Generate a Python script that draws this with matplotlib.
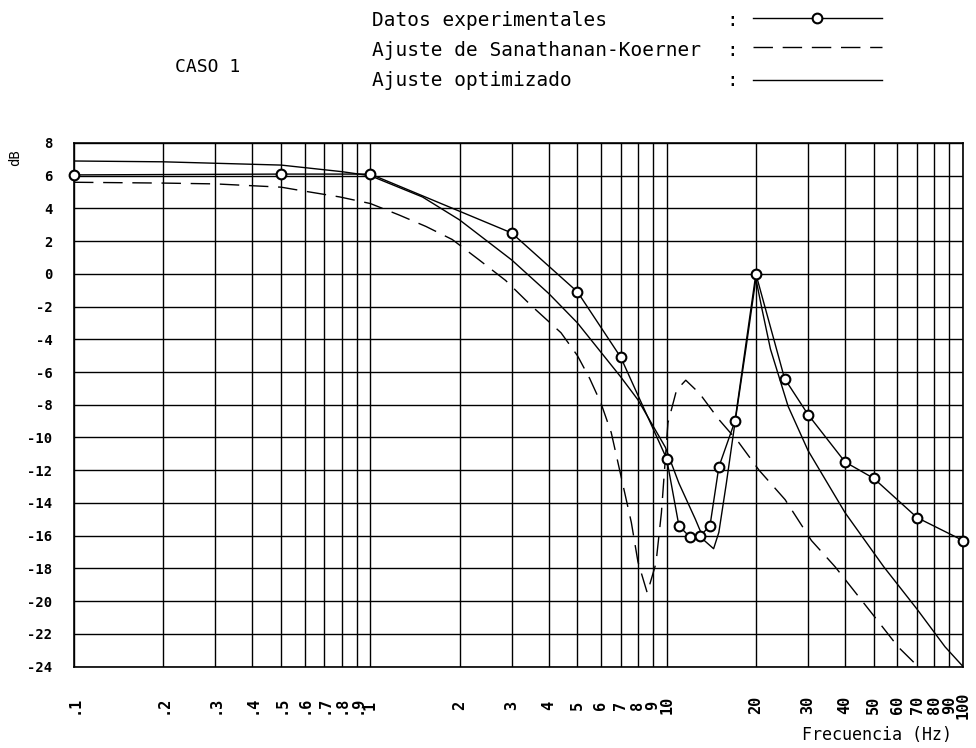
import matplotlib
matplotlib.use('Agg')
import matplotlib.pyplot as plt
from matplotlib.lines import Line2D

# datos experimentales
exp_f = [0.1, 0.5, 1, 3, 5, 7, 10, 11, 12, 13, 14, 15, 17, 20, 25, 30, 40, 50, 70, 100]
exp_db = [6.05, 6.1, 6.1, 2.5, -1.1, -5.1, -11.3, -15.4, -16.1, -16.0, -15.4, -11.8,
          -9.0, 0.0, -6.4, -8.6, -11.5, -12.5, -14.9, -16.3]

# ajuste de Sanathanan-Koerner
sk_f = [0.1, 0.2, 0.3, 0.5, 0.58, 0.79, 1.0, 1.25, 1.54, 1.89, 2.33, 2.86, 3.52, 4.4,
        5.0, 5.5, 6.0, 6.5, 7.0, 7.6, 8.0, 8.6, 9.2, 9.6, 10.1, 10.8, 11.6, 12.9, 15.0,
        17.5, 20.5, 25.1, 30.8, 37.0, 50.0, 60.4, 70.5]
sk_db = [5.6, 5.55, 5.5, 5.3, 5.1, 4.7, 4.3, 3.6, 2.9, 2.1, 0.85, -0.4, -2.0, -3.6,
         -5.0, -6.4, -7.9, -9.7, -12.3, -15.2, -17.6, -19.5, -17.7, -14.6, -9.1, -7.1,
         -6.5, -7.3, -8.9, -10.3, -12.0, -13.8, -16.3, -17.9, -20.9, -22.8, -24.0]

# ajuste optimizado
opt_f = [0.1, 0.2, 0.5, 0.8, 1.0, 1.5, 2.0, 3.0, 4.0, 5.0, 7.0, 8.0, 9.9, 11.0, 12.5,
         13.4, 14.4, 15.0, 15.9, 17.0, 18.5, 20.0, 21.0, 22.4, 25.7, 30.0, 40.0, 54.0,
         70.0, 87.0, 100.0]
opt_db = [6.9, 6.85, 6.65, 6.25, 6.0, 4.7, 3.3, 0.85, -1.2, -3.0, -6.3, -7.7, -10.6,
          -12.8, -15.0, -16.3, -16.8, -15.8, -12.8, -9.1, -4.6, -0.3, -2.2, -4.6, -8.1,
          -10.8, -14.6, -17.9, -20.5, -22.8, -24.0]

xticks = [0.1, 0.2, 0.3, 0.4, 0.5, 0.6, 0.7, 0.8, 0.9, 1, 2, 3, 4, 5, 6, 7, 8, 9,
          10, 20, 30, 40, 50, 60, 70, 80, 90, 100]
xlabels = ['.1', '.2', '.3', '.4', '.5', '.6', '.7', '.8', '.9', '1', '2', '3', '4',
           '5', '6', '7', '8', '9', '10', '20', '30', '40', '50', '60', '70', '80',
           '90', '100']
yticks = list(range(-24, 9, 2))
ylabels = [str(v) for v in yticks]

FONT = 'DejaVu Sans Mono'
plt.rcParams['font.family'] = FONT

fig = plt.figure(figsize=(9.76, 7.48), dpi=100)
ax = fig.add_axes([74 / 976, 1 - 666.5 / 748, (963 - 74) / 976, (666.5 - 143) / 748])

ax.plot(exp_f, exp_db, color='black', lw=1.0, marker='o', ms=7, mfc='white',
        mec='black', mew=1.5, clip_on=False, zorder=4)
ax.plot(sk_f, sk_db, color='black', lw=1.0, dashes=(14, 7), zorder=3)
ax.plot(opt_f, opt_db, color='black', lw=1.0, zorder=3)

ax.set_xscale('log')
ax.set_xlim(0.1, 100)
ax.set_ylim(-24, 8)
ax.set_xticks(xticks)
ax.set_xticklabels(xlabels)
ax.minorticks_off()
ax.set_yticks(yticks)
ax.set_yticklabels(ylabels)
ax.grid(True, which='major', color='black', lw=1.0)
ax.set_axisbelow(True)
for s in ax.spines.values():
    s.set_linewidth(1.2)

ax.tick_params(axis='x', length=0, pad=27.7, labelsize=11)
ax.tick_params(axis='y', length=0, pad=15.5, labelsize=10)
for lab in ax.get_xticklabels():
    lab.set_rotation(90)
    lab.set_va('center')
    lab.set_fontweight('bold')
for lab in ax.get_yticklabels():
    lab.set_fontweight('bold')

# etiquetas de ejes
fig.text(15 / 976, 1 - 158 / 748, 'dB', rotation=90, ha='center', va='center',
         fontsize=10)
fig.text(952 / 976, 1 - 735 / 748, 'Frecuencia (Hz)', ha='right', va='center',
         fontsize=12)

# titulo y leyenda
fig.text(175 / 976, 1 - 67 / 748, 'CASO 1', ha='left', va='center', fontsize=13)
rows = [('Datos experimentales', 20), ('Ajuste de Sanathanan-Koerner', 50),
        ('Ajuste optimizado', 80)]
for txt, yp in rows:
    fig.text(372 / 976, 1 - yp / 748, txt, ha='left', va='center', fontsize=14)
    fig.text(732 / 976, 1 - yp / 748, ':', ha='center', va='center', fontsize=14)

x0, x1 = 753 / 976, 882 / 976
fig.add_artist(Line2D([x0, x1], [1 - 18 / 748] * 2, color='black', lw=1.0))
fig.add_artist(Line2D([817 / 976], [1 - 18 / 748], marker='o', ms=7, mfc='white',
                      mec='black', mew=1.5, ls='none'))
fig.add_artist(Line2D([x0, x1], [1 - 47 / 748] * 2, color='black', lw=1.0,
                      dashes=(14, 7)))
fig.add_artist(Line2D([x0, x1], [1 - 80 / 748] * 2, color='black', lw=1.0))

fig.savefig('out.png', dpi=100, facecolor='white')
